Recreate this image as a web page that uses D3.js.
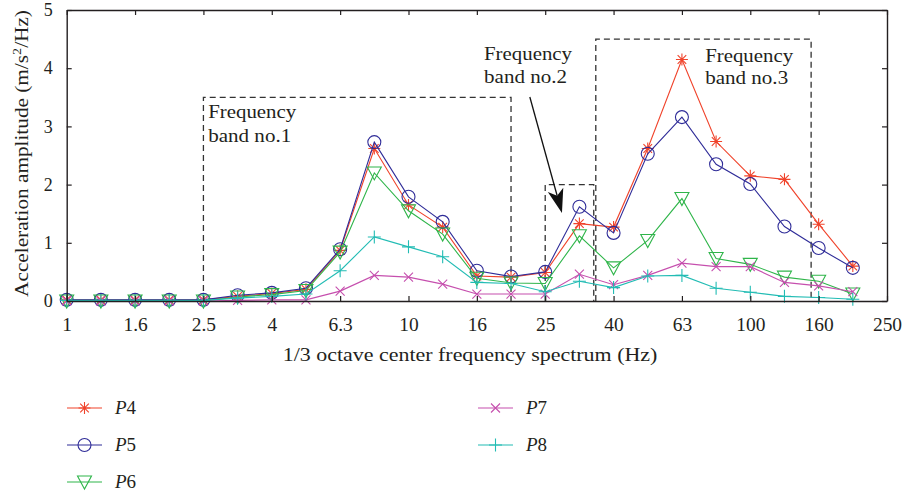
<!DOCTYPE html>
<html>
<head>
<meta charset="utf-8">
<script src="https://cdn.jsdelivr.net/npm/d3@7"></script>
<style>
  body { margin: 0; background: #fff; }
  svg { display: block; }
  text { font-family: "Liberation Serif", "Times New Roman", serif; fill: #231f20; }
</style>
</head>
<body>
<script>
// ---------- data ----------
const categories = ["1","1.25","1.6","2","2.5","3.15","4","5","6.3","8","10","12.5","16","20","25","31.5","40","50","63","80","100","125","160","200","250"];
const tickLabels = ["1","1.6","2.5","4","6.3","10","16","25","40","63","100","160","250"];
const yTicks = [0, 1, 2, 3, 4, 5];
const pointCats = categories.slice(0, 24);

const P4 = [0.02,0.02,0.02,0.02,0.02,0.08,0.13,0.20,0.87,2.62,1.65,1.27,0.43,0.41,0.49,1.33,1.27,2.62,4.15,2.74,2.15,2.09,1.32,0.60];
const P5 = [0.02,0.02,0.02,0.02,0.02,0.10,0.14,0.22,0.89,2.73,1.79,1.36,0.52,0.42,0.50,1.62,1.17,2.53,3.16,2.35,2.01,1.28,0.91,0.57];
const P6 = [0.00,0.00,0.00,0.00,0.00,0.07,0.11,0.18,0.84,2.20,1.55,1.15,0.39,0.31,0.30,1.12,0.57,1.04,1.76,0.73,0.63,0.41,0.34,0.12];
const P7 = [0.00,0.00,0.00,0.00,0.00,0.01,0.02,0.02,0.17,0.44,0.41,0.29,0.12,0.12,0.12,0.46,0.28,0.44,0.65,0.59,0.59,0.32,0.26,0.16];
const P8 = [0.01,0.01,0.01,0.01,0.01,0.05,0.08,0.12,0.52,1.10,0.93,0.76,0.32,0.30,0.16,0.34,0.23,0.43,0.44,0.22,0.15,0.08,0.06,0.03];

const seriesNames = ["P4","P5","P6","P7","P8"];
const seriesValues = [P4, P5, P6, P7, P8];

// annotation boxes: [startIndex, endIndex, top value]
const bandBoxes = [[4, 13, 3.5], [14, 15.42, 2.0], [15.48, 21.78, 4.5]];
// band labels: [index, value of first baseline, value of second baseline, text2]
const bandLabels = [[4.14, 3.14, 2.73, "band no.1"], [12.21, 4.14, 3.75, "band no.2"], [18.68, 4.11, 3.73, "band no.3"]];
// arrow: [startIndex, startValue, tipIndex, tipValue]
const arrowPts = [13.55, 3.505, 14.49, 1.51];

// ---------- styles ----------
const colors = {P4: "#f0432b", P5: "#2f2c98", P6: "#2fb54a", P7: "#c64fae", P8: "#22bcb4"};
const markerPath = {
  P4: "M-6,0H6M0,-6V6M-4.3,-4.3L4.3,4.3M-4.3,4.3L4.3,-4.3",
  P5: "M6.5,0A6.5,6.5 0 1,1 -6.5,0A6.5,6.5 0 1,1 6.5,0Z",
  P6: "M-7,-6L7,-6L0,7Z",
  P7: "M-4.5,-4.5L4.5,4.5M-4.5,4.5L4.5,-4.5",
  P8: "M-6.5,0H6.5M0,-6.5V6.5"
};

const W = 905, H = 494;
const L = 66.7, R = 887, T = 10, B = 301;

const svg = d3.select("body").append("svg").attr("width", W).attr("height", H);

const x = d3.scalePoint().domain(categories).range([L, R]).padding(0);
const xi = d3.scaleLinear().domain([0, categories.length - 1]).range([L, R]);
const y = d3.scaleLinear().domain([0, 5]).range([B, T]);

// helper: place text at (px,py) and stretch it horizontally to a target width
function stretchedText(px, py, str, target, anchor, rot) {
  const t = svg.append("text").attr("font-size", 18).attr("text-anchor", anchor || "start").text(str);
  const w = t.node().getComputedTextLength();
  const k = target / w;
  t.attr("transform", `translate(${px},${py})${rot ? ` rotate(${rot})` : ""} scale(${k},1)`);
  return t;
}

// ---------- dashed boxes ----------
bandBoxes.forEach(b => {
  svg.append("path")
    .attr("d", `M${xi(b[0])},${y(0)}V${y(b[2])}H${xi(b[1])}V${y(0)}`)
    .attr("fill", "none").attr("stroke", "#333").attr("stroke-width", 1.3)
    .attr("stroke-dasharray", "6,4");
});

// band labels
bandLabels.forEach(b => {
  stretchedText(xi(b[0]), y(b[1]), "Frequency", 88);
  stretchedText(xi(b[0]), y(b[2]), b[3], 83);
});

// arrow
{
  const x0 = xi(arrowPts[0]), y0 = y(arrowPts[1]), x1 = xi(arrowPts[2]), y1 = y(arrowPts[3]);
  const ang = Math.atan2(y1 - y0, x1 - x0);
  const hl = 24, hw = 8;
  const bx = x1 - hl * Math.cos(ang), by = y1 - hl * Math.sin(ang);
  const px = -Math.sin(ang), py = Math.cos(ang);
  const ix = x1 - hl * 0.75 * Math.cos(ang), iy = y1 - hl * 0.75 * Math.sin(ang);
  svg.append("line").attr("x1", x0).attr("y1", y0).attr("x2", ix).attr("y2", iy)
    .attr("stroke", "#111").attr("stroke-width", 1.3);
  svg.append("path")
    .attr("d", `M${x1},${y1}L${bx + px * hw},${by + py * hw}L${ix},${iy}L${bx - px * hw},${by - py * hw}Z`)
    .attr("fill", "#111");
}

// ---------- series ----------
const line = d3.line().x((d, i) => x(pointCats[i])).y(d => y(d));
seriesNames.forEach((name, k) => {
  const vals = seriesValues[k];
  const g = svg.append("g");
  g.append("path").attr("d", line(vals)).attr("fill", "none")
    .attr("stroke", colors[name]).attr("stroke-width", 1.1);
  g.selectAll("path.m").data(vals).enter().append("path").attr("class", "m")
    .attr("d", markerPath[name])
    .attr("transform", (d, i) => `translate(${x(pointCats[i])},${y(d)})`)
    .attr("fill", "none").attr("stroke", colors[name]).attr("stroke-width", 1.1);
});

// ---------- axes ----------
function styleAxis(g) {
  g.selectAll("path.domain").attr("stroke", "#231f20").attr("stroke-width", 1.4);
  g.selectAll(".tick line").attr("stroke", "#231f20").attr("stroke-width", 1.2);
  g.selectAll(".tick text").attr("font-family", "Liberation Serif, serif").attr("font-size", 18).attr("fill", "#231f20");
}
svg.append("g").attr("transform", `translate(0,${B})`)
  .call(d3.axisBottom(x).tickValues(tickLabels).tickSizeInner(-5).tickSizeOuter(0).tickPadding(17))
  .call(styleAxis)
  .selectAll(".tick text").attr("transform", "scale(1.08,1)");
svg.append("g").attr("transform", `translate(0,${T})`)
  .call(d3.axisTop(x).tickValues(tickLabels).tickSizeInner(-5).tickSizeOuter(0).tickFormat(""))
  .call(styleAxis);
svg.append("g").attr("transform", `translate(${L},0)`)
  .call(d3.axisLeft(y).tickValues(yTicks).tickSizeInner(-5).tickSizeOuter(0).tickPadding(14).tickFormat(d3.format("d")))
  .call(styleAxis);
svg.append("g").attr("transform", `translate(${R},0)`)
  .call(d3.axisRight(y).tickValues(yTicks).tickSizeInner(-5).tickSizeOuter(0).tickFormat(""))
  .call(styleAxis);

// axis titles
stretchedText(470, 361, "1/3 octave center frequency spectrum (Hz)", 375, "middle");
{
  const t = svg.append("text").attr("font-size", 18).attr("text-anchor", "middle");
  t.append("tspan").text("Acceleration amplitude (m/s");
  t.append("tspan").attr("font-size", 12).attr("dy", -7).text("2");
  t.append("tspan").attr("dy", 7).text("/Hz)");
  const w = t.node().getComputedTextLength();
  t.attr("transform", `translate(28,153.5) rotate(-90) scale(${287 / w},1)`);
}

// ---------- legend ----------
const legendItems = [["P4", 67, 408], ["P5", 67, 445], ["P6", 67, 482], ["P7", 478, 408], ["P8", 478, 445]];
legendItems.forEach(([name, lx, ly]) => {
  const g = svg.append("g");
  g.append("line").attr("x1", lx).attr("x2", lx + 35).attr("y1", ly).attr("y2", ly)
    .attr("stroke", colors[name]).attr("stroke-width", 1.1);
  g.append("path").attr("d", markerPath[name]).attr("transform", `translate(${lx + 17.5},${ly})`)
    .attr("fill", "none").attr("stroke", colors[name]).attr("stroke-width", 1.1);
  const t = g.append("text").attr("x", lx + 48).attr("y", ly + 6).attr("font-size", 19);
  t.append("tspan").attr("font-style", "italic").text("P");
  t.append("tspan").text(name.slice(1));
});
</script>
</body>
</html>
